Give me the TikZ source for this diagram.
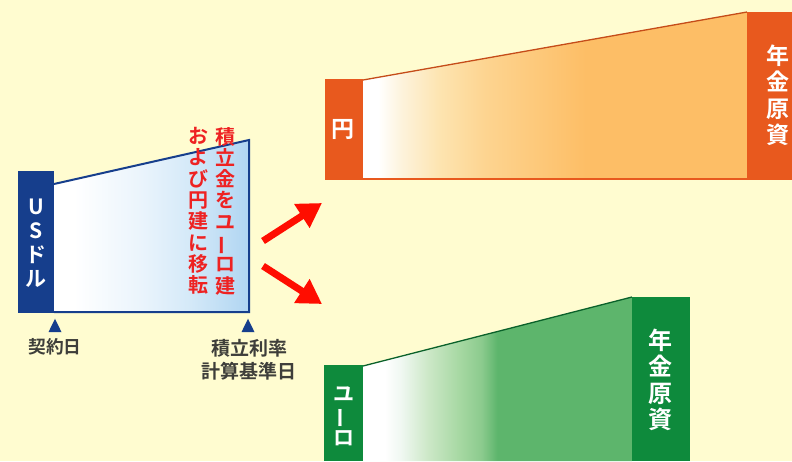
\documentclass[tikz,border=0pt]{standalone}
\usepackage{fontspec}
\usepackage{graphicx}
\setmainfont{Noto Sans CJK JP}[BoldFont={* Bold}]
\usetikzlibrary{arrows.meta,shapes.geometric}
\definecolor{bgc}{HTML}{FFFCD0}
\definecolor{navy}{HTML}{163E8C}
\definecolor{orangebar}{HTML}{E8591E}
\definecolor{greenbar}{HTML}{0E8A3C}
\definecolor{redtxt}{HTML}{EE2222}
\definecolor{graytxt}{HTML}{3E3E3A}
\definecolor{bA}{HTML}{EAF4FC}\definecolor{bB}{HTML}{D4E9F8}\definecolor{bC}{HTML}{B0D5F2}
\definecolor{oA}{HTML}{FDF3DC}\definecolor{oB}{HTML}{FDE4B0}\definecolor{oC}{HTML}{FDD490}\definecolor{oD}{HTML}{FDBE66}
\definecolor{gA}{HTML}{F0F8F2}\definecolor{gB}{HTML}{CDE8C8}\definecolor{gC}{HTML}{A6D8A2}\definecolor{gD}{HTML}{8CCB8E}\definecolor{gE}{HTML}{5DB56C}
\pgfdeclarehorizontalshading{blueramp}{100bp}{color(0bp)=(white);color(30bp)=(white);color(47.5bp)=(bA);color(60bp)=(bB);color(75bp)=(bC);color(100bp)=(bC)}
\pgfdeclarehorizontalshading{orangeramp}{100bp}{color(0bp)=(white);color(27bp)=(white);color(30bp)=(oA);color(35bp)=(oB);color(41bp)=(oC);color(54bp)=(oD);color(100bp)=(oD)}
\pgfdeclarehorizontalshading{greenramp}{100bp}{color(0bp)=(white);color(29bp)=(white);color(32bp)=(gA);color(37bp)=(gB);color(43bp)=(gC);color(47bp)=(gD);color(50bp)=(gE);color(100bp)=(gE)}
\newcommand{\vbar}{\rotatebox[origin=c]{90}{ー}}
\tikzset{
 x=1pt,y=-1pt,
 txt/.style={inner sep=0pt,align=center,font=\bfseries},
 barlabel/.style={txt,white},
 redcol/.style={txt,redtxt},
 daylabel/.style={txt,graytxt},
 marker/.style={isosceles triangle,isosceles triangle apex angle=52,shape border rotate=90,fill=navy,inner sep=0pt,minimum size=13pt},
 bigarrow/.style={draw=red!90!orange,line width=7pt,-{Triangle[width=27pt,length=24pt]}}
}
\begin{document}
\begin{tikzpicture}
\useasboundingbox (0,0) rectangle (792,461);
\fill[bgc] (0,0) rectangle (792,461);
% USD
\shade[shading=blueramp] (54,184) -- (249,140) -- (249,312) -- (54,312) -- cycle;
\draw[navy,line width=2pt] (54,184) -- (249,140) -- (249,312) -- (54,312);
\fill[navy] (18,171) rectangle (54,313);
% Yen
\shade[shading=orangeramp] (363,80) -- (747,12) -- (747,179) -- (363,179) -- cycle;
\draw[orangebar!85!black,line width=1.3pt] (363,80) -- (747,12);
\draw[orangebar,line width=1.3pt] (363,179) -- (747,179);
\fill[orangebar] (325,79) rectangle (363,180);
\fill[orangebar] (747,12) rectangle (792,180);
% Euro
\shade[shading=greenramp] (363,366) -- (632,297) -- (632,461) -- (363,461) -- cycle;
\draw[greenbar!70!black,line width=1.3pt] (363,366) -- (632,297);
\fill[greenbar] (324,365) rectangle (363,461);
\fill[greenbar] (632,297) rectangle (690,461);
% bar labels
\node[barlabel,font=\bfseries\fontsize{21}{24}\selectfont] (usd) at (36,243) {U\\S\\ド\\ル};
\node[barlabel,font=\bfseries\fontsize{23}{26}\selectfont] (yen) at (343,129) {円};
\node[barlabel,font=\bfseries\fontsize{23}{26.5}\selectfont] (pen1) at (778,95) {年\\金\\原\\資};
\node[barlabel,font=\bfseries\fontsize{21}{22}\selectfont] (eur) at (344,416) {ユ\\\vbar\\ロ};
\node[barlabel,font=\bfseries\fontsize{24}{26.5}\selectfont] (pen2) at (660,380) {年\\金\\原\\資};
% red text
\node[redcol,font=\bfseries\fontsize{20}{21.3}\selectfont] (col1) at (225,211) {積\\立\\金\\を\\ユ\\\vbar\\ロ\\建};
\node[redcol,font=\bfseries\fontsize{20}{21.3}\selectfont] (col2) at (198,211) {お\\よ\\び\\円\\建\\に\\移\\転};
% arrows
\coordinate (a1s) at (263,241);
\coordinate (a1e) at (322,203);
\coordinate (a2s) at (263,266);
\coordinate (a2e) at (322,304);
\draw[bigarrow] (a1s) -- (a1e);
\draw[bigarrow] (a2s) -- (a2e);
% markers and labels
\node[marker] (m1) at (55,328) {};
\node[marker] (m2) at (248,328) {};
\node[daylabel,font=\bfseries\fontsize{17.7}{20}\selectfont] (d1) at (55,347) {契約日};
\node[daylabel,font=\bfseries\fontsize{19}{23}\selectfont] (d2) at (249,359.5) {積立利率\\計算基準日};
\end{tikzpicture}
\end{document}
